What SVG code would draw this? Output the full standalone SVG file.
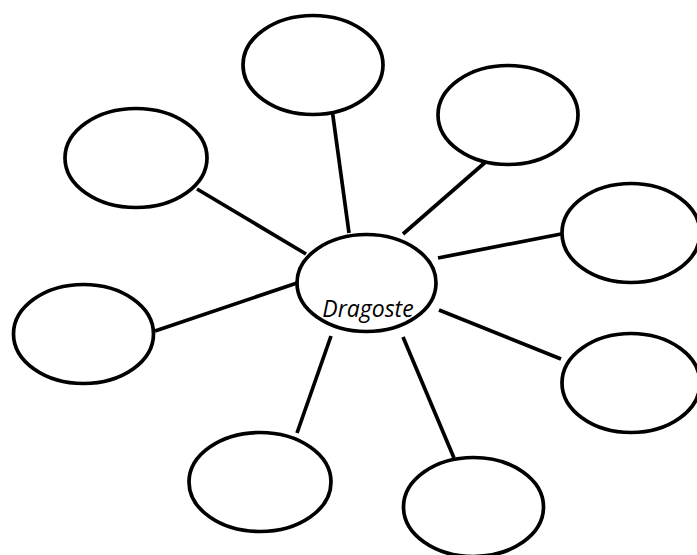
<svg xmlns="http://www.w3.org/2000/svg" width="697" height="555" viewBox="0 0 697 555">
<style>
.n{fill:#fff;stroke:#000;stroke-width:3.7}
.c line{stroke:#000;stroke-width:3.7}
.t{font-family:"Open Sans","Liberation Sans",sans-serif;font-style:italic;font-size:23px;fill:#000}
</style>
<rect width="697" height="555" fill="#fff"/>
<g class="c" id="connectors">
<line x1="332" y1="109" x2="349" y2="233"/>
<line x1="489" y1="159" x2="403" y2="234"/>
<line x1="561" y1="234" x2="438" y2="258"/>
<line x1="561" y1="359" x2="439" y2="310"/>
<line x1="454" y1="458" x2="403" y2="337"/>
<line x1="297" y1="433" x2="331" y2="336"/>
<line x1="155" y1="331" x2="297" y2="283"/>
<line x1="197" y1="189" x2="306" y2="254"/>
</g>
<g id="center"><ellipse class="n" cx="366.5" cy="283" rx="69.5" ry="48.5"/><text class="t" x="368" y="317" text-anchor="middle">Dragoste</text></g>
<g id="n-top"><ellipse class="n" cx="313" cy="65" rx="70" ry="49.5"/></g>
<g id="n-topright"><ellipse class="n" cx="508" cy="115" rx="70" ry="49.5"/></g>
<g id="n-right1"><ellipse class="n" cx="631" cy="233" rx="69" ry="49.5"/></g>
<g id="n-right2"><ellipse class="n" cx="631" cy="383" rx="69" ry="49.5"/></g>
<g id="n-bottomright"><ellipse class="n" cx="473.5" cy="507" rx="70" ry="49.5"/></g>
<g id="n-bottomleft"><ellipse class="n" cx="260" cy="482" rx="71" ry="49.5"/></g>
<g id="n-left"><ellipse class="n" cx="83.5" cy="334" rx="70" ry="49.5"/></g>
<g id="n-topleft"><ellipse class="n" cx="136" cy="158" rx="71" ry="49.5"/></g>
</svg>
